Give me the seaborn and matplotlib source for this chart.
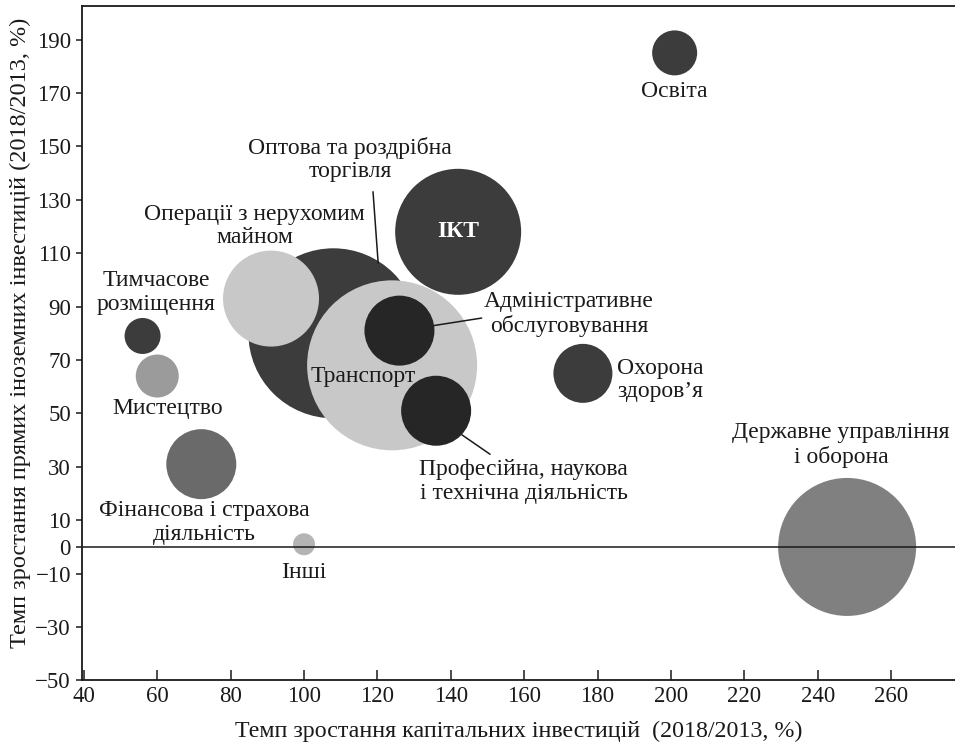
import matplotlib
matplotlib.use("Agg")
import matplotlib.pyplot as plt
import seaborn as sns
import pandas as pd

# дані
sectors = ["Оптова та роздрібна торгівля", "Операції з нерухомим майном", "Транспорт",
           "Адміністративне обслуговування", "Професійна, наукова і технічна діяльність",
           "ІКТ", "Охорона здоров’я", "Тимчасове розміщення", "Мистецтво",
           "Фінансова і страхова діяльність", "Інші", "Освіта",
           "Державне управління і оборона"]
capital_growth = [108, 91, 124, 126, 136, 142, 176, 56, 60, 72, 100, 201, 248]
fdi_growth = [80, 93, 68, 81, 51, 118, 65, 79, 64, 31, 1, 185, 0]
bubble_size = [170, 96, 170, 70, 70, 126, 59, 36, 43, 70, 22, 45, 138]

x_ticks = list(range(40, 261, 20))
y_ticks = [-50, -30, -10, 0, 10, 30, 50, 70, 90, 110, 130, 150, 170, 190]

df = pd.DataFrame({"sector": sectors, "x": capital_growth, "y": fdi_growth,
                   "d": bubble_size})

palette = {
    "Оптова та роздрібна торгівля": "#3c3c3c",
    "Операції з нерухомим майном": "#c8c8c8",
    "Транспорт": "#c8c8c8",
    "Адміністративне обслуговування": "#262626",
    "Професійна, наукова і технічна діяльність": "#262626",
    "ІКТ": "#3c3c3c",
    "Охорона здоров’я": "#3c3c3c",
    "Тимчасове розміщення": "#3c3c3c",
    "Мистецтво": "#9b9b9b",
    "Фінансова і страхова діяльність": "#6a6a6a",
    "Інші": "#b4b4b4",
    "Освіта": "#3c3c3c",
    "Державне управління і оборона": "#808080",
}

sns.set_style("ticks")
plt.rcParams["font.family"] = ["Liberation Serif", "DejaVu Serif"]
ink = "#1a1a1a"

fig = plt.figure(figsize=(9.55, 7.49), dpi=100)
ax = fig.add_axes([0.0859, 0.0915, 0.9141, 0.901])

# діаметр бульбашки в пікселях -> площа маркера в pt^2
sizes = [(0.72 * d) ** 2 for d in df["d"]]
sns.scatterplot(data=df, x="x", y="y", hue="sector", palette=palette, s=sizes,
                legend=False, edgecolor="none", linewidth=0, ax=ax, zorder=2)

ax.axhline(0, color=ink, lw=1.1, zorder=3)

# підписи
fs = 17
labels = [
    ("Оптова та роздрібна\nторгівля", 112.5, 145, "center"),
    ("Операції з нерухомим\nмайном", 86.6, 120.2, "center"),
    ("Тимчасове\nрозміщення", 59.7, 95.3, "center"),
    ("Мистецтво", 62.9, 51.7, "center"),
    ("Фінансова і страхова\nдіяльність", 72.7, 9.2, "center"),
    ("Інші", 100, -9.4, "center"),
    ("Транспорт", 116.1, 63.7, "center"),
    ("Адміністративне\nобслуговування", 172.2, 87.3, "center"),
    ("Охорона\nздоров’я", 197, 62.5, "center"),
    ("Професійна, наукова\nі технічна діяльність", 159.9, 24.5, "center"),
    ("Освіта", 200.8, 170.4, "center"),
    ("Державне управління\nі оборона", 246.3, 38.2, "center"),
]
for txt, tx, ty, ha in labels:
    ax.text(tx, ty, txt, ha=ha, va="center", fontsize=fs, color=ink,
            linespacing=1.15, zorder=4)
ax.text(142, 118, "ІКТ", ha="center", va="center", fontsize=fs, color="white",
        fontweight="bold", zorder=4)

# лінії-виноски
for (x0, y0), (x1, y1) in [((118.8, 133), (120.2, 106.3)),
                           ((135.4, 82.9), (148.4, 85.7)),
                           ((143, 42), (150.7, 34.7))]:
    ax.plot([x0, x1], [y0, y1], color=ink, lw=1.1, zorder=4)

ax.set_xlim(39.5, 277.4)
ax.set_ylim(-50, 202.7)
ax.set_xticks(x_ticks)
ax.set_yticks(y_ticks)
ax.tick_params(axis="x", direction="in", length=7, width=1.1, pad=4,
               labelsize=16.5, colors=ink)
ax.tick_params(axis="y", direction="out", length=4, width=1.1, pad=4,
               labelsize=16.5, colors=ink)
for side in ["left", "bottom", "top"]:
    ax.spines[side].set_linewidth(1.3)
    ax.spines[side].set_color(ink)
ax.spines["right"].set_visible(False)

ax.set_xlabel("Темп зростання капітальних інвестицій  (2018/2013, %)",
              fontsize=17.3, color=ink)
ax.set_ylabel("Темп зростання прямих іноземних інвестицій (2018/2013, %)",
              fontsize=17.5, color=ink)
ax.xaxis.set_label_coords(0.5, -0.06)
ax.yaxis.set_label_coords(-0.058, 0.515)
ax.xaxis.label.set_va("top")
ax.yaxis.label.set_va("bottom")

fig.savefig("out.png", dpi=100)
